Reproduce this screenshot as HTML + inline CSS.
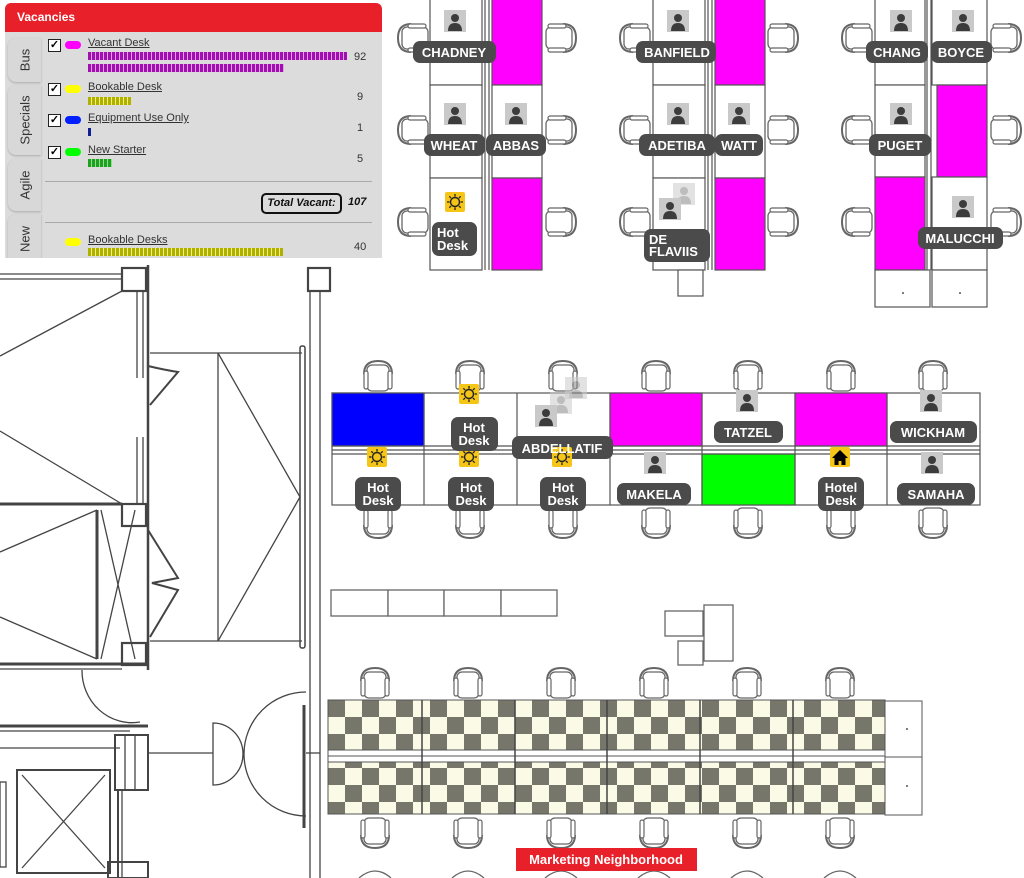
<!DOCTYPE html>
<html><head><meta charset="utf-8"><style>
html,body{margin:0;padding:0;background:#fff;width:1024px;height:878px;overflow:hidden;font-family:"Liberation Sans",sans-serif}
svg{position:absolute;left:0;top:0}
.lbl{font:bold 13px "Liberation Sans",sans-serif;fill:#fff}
#panel{position:absolute;left:5px;top:3px;width:377px;height:255px;background:#dcdcdc;border-radius:6px 6px 0 0;overflow:hidden}
#hdr{height:29px;background:#e8202a;color:#fff;font-weight:bold;font-size:12px;line-height:29px;padding-left:12px}
.tab{position:absolute;left:3px;width:33px;background:#d8d8d8;border-radius:8px 0 0 8px;box-shadow:0 1px 2px #aaa}
.tab span{position:absolute;left:50%;top:50%;transform:translate(-50%,-50%) rotate(-90deg);font-size:13px;color:#333;white-space:nowrap}
.cb{position:absolute;width:11px;height:11px;border:1px solid #222;background:#fff;font-size:11px;line-height:11px;text-align:center;font-weight:bold}
.pill{position:absolute;width:16px;height:8px;border-radius:4px}
.name{position:absolute;text-decoration:underline;font-size:11px;color:#333}
.bar{position:absolute;height:8px}
.num{position:absolute;font-size:11px;color:#333}
.hr{position:absolute;left:40px;right:10px;height:1px;background:#aaa}
</style></head><body>
<svg width="1024" height="878" viewBox="0 0 1024 878">
<defs>
<g id="ch">
<path d="M-14,-3 Q-14,-16 0,-16 Q14,-16 14,-3" fill="none" stroke="#666" stroke-width="2"/>
<rect x="-11" y="-12" width="22" height="26" rx="5" fill="#fff" stroke="#666" stroke-width="1.3"/>
<rect x="-14" y="-6" width="4" height="18" rx="2" fill="#fff" stroke="#666" stroke-width="1.2"/>
<rect x="10" y="-6" width="4" height="18" rx="2" fill="#fff" stroke="#666" stroke-width="1.2"/>
</g>
<g id="pp"><rect width="22" height="22" fill="#c9c9c9"/><circle cx="11" cy="8" r="4" fill="#3c3c3c"/><path d="M4,21 Q4,13 11,13 Q18,13 18,21Z" fill="#3c3c3c"/></g>
<g id="pf" opacity="0.55"><rect width="22" height="22" fill="#ccc"/><circle cx="11" cy="8" r="4" fill="#888"/><path d="M4,21 Q4,13 11,13 Q18,13 18,21Z" fill="#888"/></g>
<g id="sun"><rect width="20" height="20" rx="2" fill="#f5c518"/><circle cx="10" cy="10" r="4.5" fill="none" stroke="#222" stroke-width="1.4"/>
<path d="M10,2v2.5M10,15.5v2.5M2,10h2.5M15.5,10h2.5M4.3,4.3l1.8,1.8M13.9,13.9l1.8,1.8M4.3,15.7l1.8,-1.8M13.9,6.1l1.8,-1.8" stroke="#222" stroke-width="1.3"/></g>
<g id="house"><rect width="20" height="20" rx="2" fill="#f5c518"/><path d="M10,3 L18,11 H15.5 V18 H11.5 V14 H8.5 V18 H4.5 V11 H2Z" fill="#000"/></g>
<pattern id="chk" width="34" height="34" patternUnits="userSpaceOnUse" x="328" y="700">
<rect width="34" height="34" fill="#fafae6"/><rect width="17" height="17" fill="#76766a"/><rect x="17" y="17" width="17" height="17" fill="#76766a"/></pattern>
</defs>

<g fill="none" stroke="#444" stroke-width="1.3">
<line x1="0" y1="274" x2="122" y2="274"/><line x1="0" y1="279" x2="122" y2="279"/>
<rect x="122" y="268" width="24" height="23" stroke-width="2.2"/>
<line x1="122" y1="291" x2="0" y2="356"/><line x1="0" y1="431" x2="122" y2="504"/>
<line x1="137" y1="291" x2="137" y2="378"/><line x1="143" y1="291" x2="143" y2="378"/>
<line x1="148" y1="265" x2="148" y2="670" stroke-width="2.5"/>
<line x1="137" y1="437" x2="137" y2="504"/><line x1="143" y1="437" x2="143" y2="504"/>
<rect x="122" y="504" width="24" height="22" stroke-width="2.2"/>
<line x1="0" y1="504" x2="122" y2="504" stroke-width="3"/>
<line x1="97" y1="510" x2="97" y2="659" stroke-width="3"/>
<line x1="101" y1="510" x2="135" y2="659"/><line x1="135" y1="510" x2="101" y2="659"/>
<line x1="97" y1="510" x2="0" y2="552"/><line x1="0" y1="617" x2="97" y2="659"/>
<rect x="122" y="643" width="24" height="22" stroke-width="2.2"/>
<line x1="0" y1="664" x2="148" y2="664" stroke-width="3"/><line x1="0" y1="669" x2="122" y2="669"/>
<path d="M82,670 A50,52 0 0 0 140,722"/>
<line x1="0" y1="726" x2="148" y2="726" stroke-width="3"/><line x1="0" y1="731" x2="130" y2="731"/>
<line x1="0" y1="748" x2="120" y2="748"/>
<rect x="115" y="735" width="33" height="55" stroke-width="2"/>
<line x1="125" y1="735" x2="125" y2="790"/><line x1="135" y1="735" x2="135" y2="790"/>
<line x1="118" y1="790" x2="118" y2="878" stroke-width="2"/><line x1="122" y1="790" x2="122" y2="878"/>
<rect x="17" y="770" width="93" height="103" stroke-width="2"/>
<line x1="22" y1="775" x2="105" y2="868"/><line x1="105" y1="775" x2="22" y2="868"/>
<rect x="0" y="782" width="6" height="85"/>
<rect x="108" y="862" width="40" height="16" stroke-width="2"/>
<path d="M148,366 Q165,370 178,372 L150,405" stroke-width="2"/>
<path d="M148,530 L178,578 L152,583 L178,590 L150,637" stroke-width="2"/>
<line x1="150" y1="353" x2="302" y2="353"/><line x1="150" y1="641" x2="302" y2="641"/>
<line x1="218" y1="353" x2="218" y2="641"/>
<path d="M218,353 L300,497 L218,641"/>
<rect x="300" y="346" width="5" height="302" rx="2" stroke-width="1.5"/>
<rect x="308" y="268" width="22" height="23" stroke-width="2.2"/>
<line x1="310" y1="291" x2="310" y2="878"/><line x1="320" y1="291" x2="320" y2="878"/>
<line x1="148" y1="753" x2="213" y2="753"/>
<path d="M213,723 A30,31 0 0 1 213,785 Z"/>
<path d="M306,692 A62,62 0 0 0 306,816"/>
<line x1="304" y1="705" x2="304" y2="828" stroke-width="3"/>
<line x1="306" y1="753" x2="320" y2="753"/>
</g>

<g stroke="#555" stroke-width="1.2">
<rect x="430" y="-2" width="52" height="87" fill="#fff"/><rect x="430" y="85" width="52" height="93" fill="#fff"/><rect x="430" y="178" width="52" height="92" fill="#fff"/>
<rect x="492" y="-2" width="50" height="87" fill="#ff00ff"/><rect x="492" y="85" width="50" height="93" fill="#fff"/><rect x="492" y="178" width="50" height="92" fill="#ff00ff"/>
<line x1="485" y1="0" x2="485" y2="270"/><line x1="489" y1="0" x2="489" y2="270"/>
<rect x="653" y="-2" width="52" height="87" fill="#fff"/><rect x="653" y="85" width="52" height="93" fill="#fff"/><rect x="653" y="178" width="52" height="92" fill="#fff"/>
<rect x="715" y="-2" width="50" height="87" fill="#ff00ff"/><rect x="715" y="85" width="50" height="93" fill="#fff"/><rect x="715" y="178" width="50" height="92" fill="#ff00ff"/>
<line x1="708" y1="0" x2="708" y2="270"/><line x1="712" y1="0" x2="712" y2="270"/>
<rect x="678" y="270" width="25" height="26" fill="#fff"/>
<rect x="875" y="-2" width="50" height="87" fill="#fff"/><rect x="875" y="85" width="50" height="92" fill="#fff"/><rect x="875" y="177" width="50" height="93" fill="#ff00ff"/>
<rect x="932" y="-2" width="55" height="87" fill="#fff"/><rect x="937" y="85" width="50" height="92" fill="#ff00ff"/><rect x="932" y="177" width="55" height="93" fill="#fff"/>
<line x1="927" y1="0" x2="927" y2="270"/><line x1="931" y1="0" x2="931" y2="270"/>
<rect x="875" y="270" width="55" height="37" fill="#fff"/><rect x="932" y="270" width="55" height="37" fill="#fff"/>
</g>
<circle cx="903" cy="293" r="1" fill="#555"/><circle cx="960" cy="293" r="1" fill="#555"/>
<g>
<use href="#ch" transform="translate(414,38) rotate(-90)"/><use href="#ch" transform="translate(414,130) rotate(-90)"/><use href="#ch" transform="translate(414,222) rotate(-90)"/>
<use href="#ch" transform="translate(560,38) rotate(90)"/><use href="#ch" transform="translate(560,130) rotate(90)"/><use href="#ch" transform="translate(560,222) rotate(90)"/>
<use href="#ch" transform="translate(636,38) rotate(-90)"/><use href="#ch" transform="translate(636,130) rotate(-90)"/><use href="#ch" transform="translate(636,222) rotate(-90)"/>
<use href="#ch" transform="translate(782,38) rotate(90)"/><use href="#ch" transform="translate(782,130) rotate(90)"/><use href="#ch" transform="translate(782,222) rotate(90)"/>
<use href="#ch" transform="translate(858,38) rotate(-90)"/><use href="#ch" transform="translate(858,130) rotate(-90)"/><use href="#ch" transform="translate(858,222) rotate(-90)"/>
<use href="#ch" transform="translate(1005,38) rotate(90)"/><use href="#ch" transform="translate(1005,130) rotate(90)"/><use href="#ch" transform="translate(1005,222) rotate(90)"/>
</g>
<use href="#pp" x="444" y="10"/><use href="#pp" x="444" y="103"/><use href="#pp" x="505" y="103"/><use href="#sun" x="445" y="192"/>
<use href="#pp" x="667" y="10"/><use href="#pp" x="667" y="103"/><use href="#pp" x="728" y="103"/><use href="#pf" x="673" y="183"/><use href="#pp" x="659" y="198"/>
<use href="#pp" x="890" y="10"/><use href="#pp" x="952" y="10"/><use href="#pp" x="890" y="103"/><use href="#pp" x="952" y="196"/>
<g fill="#4b4b4b">
<rect x="413" y="41" width="83" height="22" rx="7"/><rect x="424" y="134" width="61" height="22" rx="7"/><rect x="486" y="134" width="60" height="22" rx="7"/><rect x="432" y="222" width="45" height="34" rx="7"/>
<rect x="636" y="41" width="80" height="22" rx="7"/><rect x="639" y="134" width="76" height="22" rx="7"/><rect x="715" y="134" width="48" height="22" rx="7"/><rect x="644" y="229" width="66" height="33" rx="7"/>
<rect x="866" y="41" width="62" height="22" rx="7"/><rect x="931" y="41" width="61" height="22" rx="7"/><rect x="869" y="134" width="62" height="22" rx="7"/><rect x="918" y="227" width="85" height="22" rx="7"/>
</g>
<g class="lbl" text-anchor="middle">
<text x="454" y="57">CHADNEY</text><text x="454" y="150">WHEAT</text><text x="516" y="150">ABBAS</text>
<text x="677" y="57">BANFIELD</text><text x="677" y="150">ADETIBA</text><text x="739" y="150">WATT</text>
<text x="897" y="57">CHANG</text><text x="961" y="57">BOYCE</text><text x="900" y="150">PUGET</text><text x="960" y="243">MALUCCHI</text>
</g>
<g class="lbl">
<text x="437" y="237">Hot</text><text x="437" y="250">Desk</text>
<text x="649" y="244">DE</text><text x="649" y="256">FLAVIIS</text>
</g>

<g stroke="#555" stroke-width="1.2">
<rect x="332" y="393" width="648" height="112" fill="#fff"/>
<rect x="332" y="393" width="92" height="53" fill="#0000ff"/>
<rect x="610" y="393" width="92" height="53" fill="#ff00ff"/>
<rect x="795" y="393" width="92" height="53" fill="#ff00ff"/>
<rect x="702" y="454" width="93" height="51" fill="#00ff00"/>
<line x1="332" y1="446" x2="980" y2="446"/><line x1="332" y1="450" x2="980" y2="450"/><line x1="332" y1="454" x2="980" y2="454"/>
<line x1="424" y1="393" x2="424" y2="505"/><line x1="517" y1="393" x2="517" y2="505"/><line x1="610" y1="393" x2="610" y2="505"/>
<line x1="702" y1="393" x2="702" y2="505"/><line x1="795" y1="393" x2="795" y2="505"/><line x1="887" y1="393" x2="887" y2="505"/>
</g>
<g>
<use href="#ch" transform="translate(378,377)"/><use href="#ch" transform="translate(470,377)"/><use href="#ch" transform="translate(563,377)"/><use href="#ch" transform="translate(656,377)"/><use href="#ch" transform="translate(748,377)"/><use href="#ch" transform="translate(841,377)"/><use href="#ch" transform="translate(933,377)"/>
<use href="#ch" transform="translate(378,522) rotate(180)"/><use href="#ch" transform="translate(470,522) rotate(180)"/><use href="#ch" transform="translate(563,522) rotate(180)"/><use href="#ch" transform="translate(656,522) rotate(180)"/><use href="#ch" transform="translate(748,522) rotate(180)"/><use href="#ch" transform="translate(841,522) rotate(180)"/><use href="#ch" transform="translate(933,522) rotate(180)"/>
</g>
<use href="#sun" x="459" y="384"/><use href="#pf" x="565" y="377"/><use href="#pf" x="550" y="392"/><use href="#pp" x="535" y="405"/>
<use href="#pp" x="736" y="390"/><use href="#pp" x="920" y="390"/>
<use href="#sun" x="367" y="447"/><use href="#sun" x="459" y="447"/>
<use href="#pp" x="644" y="452"/><use href="#house" x="830" y="447"/><use href="#pp" x="921" y="452"/>
<g fill="#4b4b4b">
<rect x="451" y="417" width="47" height="34" rx="7"/><rect x="512" y="436" width="101" height="23" rx="7"/>
<rect x="714" y="421" width="69" height="22" rx="7"/><rect x="890" y="421" width="87" height="22" rx="7"/>
<rect x="355" y="477" width="46" height="34" rx="7"/><rect x="448" y="477" width="46" height="34" rx="7"/><rect x="540" y="477" width="46" height="34" rx="7"/>
<rect x="617" y="483" width="74" height="22" rx="7"/><rect x="818" y="477" width="46" height="34" rx="7"/><rect x="897" y="483" width="78" height="22" rx="7"/>
</g>
<use href="#sun" x="552" y="447"/>
<g class="lbl" text-anchor="middle">
<text x="562" y="453">ABDELLATIF</text><text x="748" y="437">TATZEL</text><text x="933" y="437">WICKHAM</text>
<text x="654" y="499">MAKELA</text><text x="936" y="499">SAMAHA</text>
<text x="474" y="432">Hot</text><text x="474" y="445">Desk</text>
<text x="378" y="492">Hot</text><text x="378" y="505">Desk</text>
<text x="471" y="492">Hot</text><text x="471" y="505">Desk</text>
<text x="563" y="492">Hot</text><text x="563" y="505">Desk</text>
<text x="841" y="492">Hotel</text><text x="841" y="505">Desk</text>
</g>

<g fill="#fff" stroke="#666" stroke-width="1.3">
<rect x="331" y="590" width="57" height="26"/><rect x="388" y="590" width="56" height="26"/><rect x="444" y="590" width="57" height="26"/><rect x="501" y="590" width="56" height="26"/>
<rect x="665" y="611" width="38" height="25"/><rect x="704" y="605" width="29" height="56"/><rect x="678" y="641" width="25" height="24"/>
</g>

<g>
<use href="#ch" transform="translate(375,684)"/><use href="#ch" transform="translate(468,684)"/><use href="#ch" transform="translate(561,684)"/><use href="#ch" transform="translate(654,684)"/><use href="#ch" transform="translate(747,684)"/><use href="#ch" transform="translate(840,684)"/>
<use href="#ch" transform="translate(375,832) rotate(180)"/><use href="#ch" transform="translate(468,832) rotate(180)"/><use href="#ch" transform="translate(561,832) rotate(180)"/><use href="#ch" transform="translate(654,832) rotate(180)"/><use href="#ch" transform="translate(747,832) rotate(180)"/><use href="#ch" transform="translate(840,832) rotate(180)"/>
</g>
<rect x="328" y="700" width="557" height="50" fill="url(#chk)" stroke="#555"/>
<rect x="328" y="762" width="557" height="52" fill="url(#chk)" stroke="#555"/>
<rect x="328" y="750" width="557" height="12" fill="#fff" stroke="#555"/>
<line x1="328" y1="756" x2="885" y2="756" stroke="#555"/>
<g stroke="#444" stroke-width="1.5">
<line x1="422" y1="700" x2="422" y2="814"/><line x1="515" y1="700" x2="515" y2="814"/><line x1="607" y1="700" x2="607" y2="814"/><line x1="700" y1="700" x2="700" y2="814"/><line x1="793" y1="700" x2="793" y2="814"/>
</g>
<g fill="#fff" stroke="#555"><rect x="885" y="701" width="37" height="56"/><rect x="885" y="757" width="37" height="58"/></g>
<circle cx="907" cy="729" r="1" fill="#555"/><circle cx="907" cy="786" r="1" fill="#555"/>
<g fill="#fff" stroke="#666" stroke-width="1.3">
<path d="M359,878 Q375,864 391,878"/><path d="M452,878 Q468,864 484,878"/><path d="M545,878 Q561,864 577,878"/><path d="M638,878 Q654,864 670,878"/><path d="M731,878 Q747,864 763,878"/><path d="M824,878 Q840,864 856,878"/>
</g>
<rect x="516" y="848" width="181" height="23" fill="#e8202a"/>
<text x="606" y="864" text-anchor="middle" style="font:bold 13px 'Liberation Sans',sans-serif;fill:#fff">Marketing Neighborhood</text>
</svg>

<div id="panel">
<div id="hdr">Vacancies</div>
<div class="tab" style="top:35px;height:44px"><span>Bus</span></div>
<div class="tab" style="top:82px;height:70px"><span>Specials</span></div>
<div class="tab" style="top:156px;height:52px"><span>Agile</span></div>
<div class="tab" style="top:211px;height:50px"><span>New</span></div>

<div class="cb" style="left:43px;top:36px">✓</div><div class="pill" style="left:60px;top:38px;background:#ff00ff"></div>
<div class="name" style="left:83px;top:34px">Vacant Desk</div>
<div class="bar" style="left:83px;top:49px;width:259px;background:repeating-linear-gradient(90deg,#a010b0 0 3px,#e0a0e0 3px 4px)"></div>
<div class="bar" style="left:83px;top:61px;width:196px;background:repeating-linear-gradient(90deg,#a010b0 0 3px,#e0a0e0 3px 4px)"></div>
<div class="num" style="left:349px;top:48px">92</div>

<div class="cb" style="left:43px;top:80px">✓</div><div class="pill" style="left:60px;top:82px;background:#ffff00"></div>
<div class="name" style="left:83px;top:78px">Bookable Desk</div>
<div class="bar" style="left:83px;top:94px;width:43px;background:repeating-linear-gradient(90deg,#b0b000 0 3px,#f0f080 3px 4px)"></div>
<div class="num" style="left:352px;top:88px">9</div>

<div class="cb" style="left:43px;top:111px">✓</div><div class="pill" style="left:60px;top:113px;background:#0020ff"></div>
<div class="name" style="left:83px;top:109px">Equipment Use Only</div>
<div class="bar" style="left:83px;top:125px;width:3px;background:#102090"></div>
<div class="num" style="left:352px;top:119px">1</div>

<div class="cb" style="left:43px;top:143px">✓</div><div class="pill" style="left:60px;top:145px;background:#00ff00"></div>
<div class="name" style="left:83px;top:141px">New Starter</div>
<div class="bar" style="left:83px;top:156px;width:24px;background:repeating-linear-gradient(90deg,#20a020 0 3px,#90e090 3px 4px)"></div>
<div class="num" style="left:352px;top:150px">5</div>

<div class="hr" style="top:178px"></div>
<div style="position:absolute;left:256px;top:190px;width:77px;height:17px;border:2px solid #111;border-radius:5px;font:italic bold 11px 'Liberation Sans',sans-serif;line-height:17px;text-align:center;color:#111">Total Vacant:</div>
<div style="position:absolute;left:343px;top:193px;font:italic bold 11px 'Liberation Sans',sans-serif;color:#111">107</div>
<div class="hr" style="top:219px"></div>

<div class="pill" style="left:60px;top:235px;background:#ffff00"></div>
<div class="name" style="left:83px;top:231px">Bookable Desks</div>
<div class="bar" style="left:83px;top:245px;width:195px;background:repeating-linear-gradient(90deg,#b0b000 0 3px,#f0f080 3px 4px)"></div>
<div class="num" style="left:349px;top:238px">40</div>
</div>
</body></html>
